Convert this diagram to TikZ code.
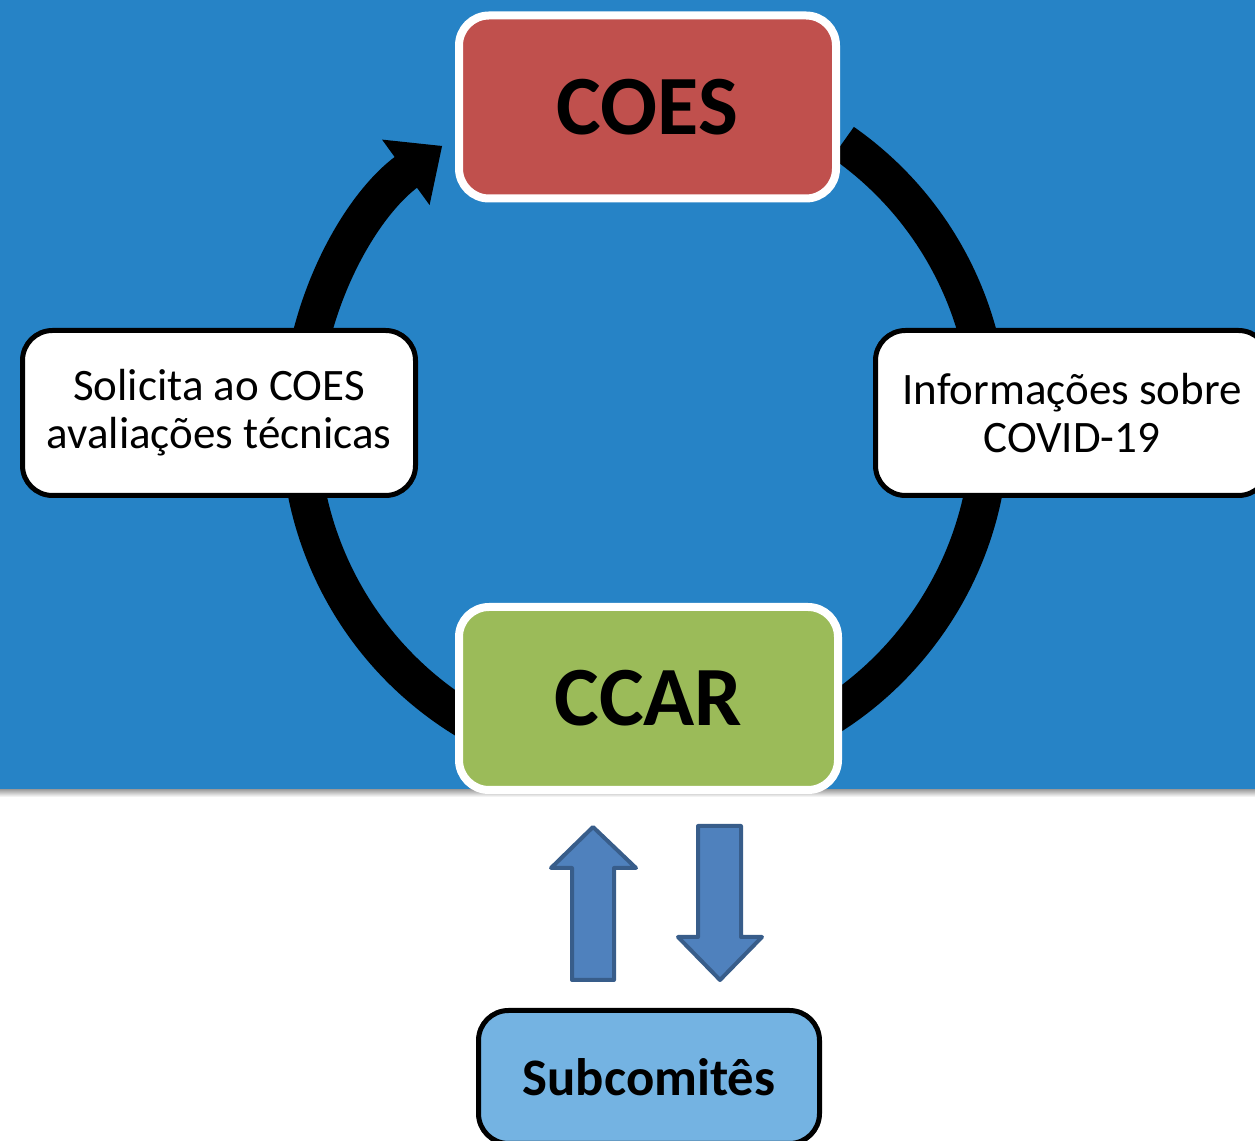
\documentclass[tikz,border=0pt]{standalone}
\usepackage{fontspec}
\setmainfont{Carlito}
\usepackage{tikz}
\usetikzlibrary{arrows.meta}
\usepackage{xcolor}
\definecolor{bgblue}{HTML}{2683C6}
\definecolor{coesred}{HTML}{C0504D}
\definecolor{ccargreen}{HTML}{9BBB59}
\definecolor{subblue}{HTML}{74B3E2}
\definecolor{arrowfill}{HTML}{4F81BD}
\definecolor{arrowedge}{HTML}{385D8A}

\tikzset{
	mainbox/.style={draw=white,line width=0.08cm,rounded corners=0.3cm,
		minimum height=1.83cm,font=\fontsize{24}{29}\selectfont\bfseries},
	sidebox/.style={draw=black,fill=white,line width=0.05cm,rounded corners=0.3cm,
		minimum width=3.93cm,minimum height=1.65cm,align=center,
		font=\fontsize{12.8}{13.6}\selectfont},
	ring/.style={line width=0.38cm,-{Triangle[width=0.78cm,length=0.45cm]}},
	blockarrow/.style={fill=arrowfill,draw=arrowedge,line width=0.04cm,line join=round}
}

\begin{document}
\begin{tikzpicture}
		\useasboundingbox (0,0) rectangle (12.55,-11.41);
		\fill[bgblue] (0,0) rectangle (12.55,-7.9);
		\shade[top color=black!35,bottom color=white] (0,-7.9) rectangle (12.55,-7.97);
	
		\coordinate (hub) at (6.45,-4.25);
		\draw[ring] ([shift={(55:3.45)}]hub) arc[start angle=55,end angle=-234,radius=3.45];
	
		\node[mainbox,fill=coesred,minimum width=3.77cm] (coes) at (6.475,-1.07) {COES};
		\node[mainbox,fill=ccargreen,minimum width=3.79cm] (ccar) at (6.485,-6.985) {CCAR};
		\node[sidebox] (pede) at (2.19,-4.13) {Solicita ao COES\\avaliações técnicas};
		\node[sidebox] (info) at (10.72,-4.13) {Informações sobre\\COVID-19};
		\node[draw=black,fill=subblue,line width=0.05cm,rounded corners=0.3cm,
			minimum width=3.41cm,minimum height=1.33cm,
			font=\fontsize{15}{18}\selectfont\bfseries] (sub) at (6.49,-10.77) {Subcomitês};
	
		\draw[blockarrow] (5.72,-9.80) -- (5.72,-8.68) -- (5.51,-8.68) -- (5.93,-8.27) 
		-- (6.36,-8.68) -- (6.14,-8.68) -- (6.14,-9.80) -- cycle;
		\draw[blockarrow] (6.98,-8.26) -- (6.98,-9.37) -- (6.78,-9.37) -- (7.20,-9.80) 
		-- (7.62,-9.37) -- (7.41,-9.37) -- (7.41,-8.26) -- cycle;
	\end{tikzpicture}
\end{document}
